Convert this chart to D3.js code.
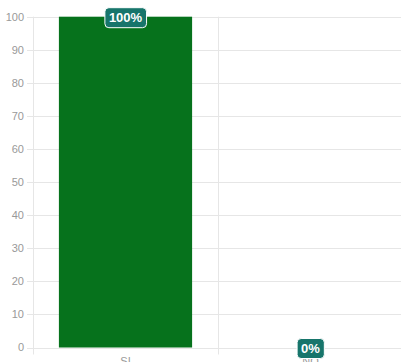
<!DOCTYPE html>
<html><head><meta charset="utf-8">
<script src="https://cdn.jsdelivr.net/npm/d3@7"></script>
<style>body{margin:0;background:#fff}svg{display:block}</style>
</head><body>
<svg id="c" width="401" height="362"></svg>
<script>
const categories = ["SI", "NO"];
const values = [100, 0];
const labels = ["100%", "0%"];
const yTicks = [0,10,20,30,40,50,60,70,80,90,100];

(function () {
const svg = d3.select("#c");
const pLeft = 33, pRight = 403, pTop = 16.7, pBottom = 347.5;
const x = d3.scaleBand().domain(categories).range([pLeft, pRight]).paddingInner(0).paddingOuter(0);
const y = d3.scaleLinear().domain([0, 100]).range([pBottom, pTop]);
const font = "Helvetica, Arial, 'Liberation Sans', sans-serif";
const gridColor = "#e6e6e6";

// horizontal grid
svg.append("g").selectAll("line").data(yTicks).join("line")
  .attr("x1", pLeft - 6).attr("x2", 401)
  .attr("y1", d => Math.round(y(d)) + 0.5).attr("y2", d => Math.round(y(d)) + 0.5)
  .attr("stroke", gridColor).attr("stroke-width", 1);

// vertical grid at category boundaries
const bounds = categories.map(c => x(c));
svg.append("g").selectAll("line").data(bounds).join("line")
  .attr("x1", d => Math.round(d) + 0.5).attr("x2", d => Math.round(d) + 0.5)
  .attr("y1", pTop).attr("y2", pBottom + 7)
  .attr("stroke", gridColor).attr("stroke-width", 1);

// y tick labels
svg.append("g").selectAll("text").data(yTicks).join("text")
  .attr("x", pLeft - 9).attr("y", d => y(d))
  .attr("dy", "0.35em").attr("text-anchor", "end")
  .attr("font-family", font).attr("font-size", 11).attr("fill", "#999")
  .text(d => d);

// bars
const bw = x.bandwidth() * 0.72;
svg.append("g").selectAll("rect").data(values).join("rect")
  .attr("x", (d, i) => x(categories[i]) + (x.bandwidth() - bw) / 2)
  .attr("width", bw)
  .attr("y", d => y(d)).attr("height", d => y(0) - y(d))
  .attr("fill", "#06721c");

// x labels
svg.append("g").selectAll("text").data(categories).join("text")
  .attr("x", d => x(d) + x.bandwidth() / 2).attr("y", 365)
  .attr("text-anchor", "middle")
  .attr("font-family", font).attr("font-size", 11).attr("fill", "#999")
  .text(d => d);

// value labels
const lg = svg.append("g");
values.forEach((v, i) => {
  const cx = x(categories[i]) + x.bandwidth() / 2;
  const cy = y(v) + 1;
  const g = lg.append("g");
  const t = g.append("text").attr("x", cx).attr("y", cy).attr("dy", "0.36em")
    .attr("text-anchor", "middle").attr("font-family", font).attr("font-weight", "bold")
    .attr("font-size", 13).attr("fill", "#fff").text(labels[i]);
  const bb = t.node().getBBox();
  g.insert("rect", "text")
    .attr("x", bb.x - 4).attr("y", cy - 10).attr("width", bb.width + 8).attr("height", 20)
    .attr("rx", 4).attr("fill", "#17756b").attr("stroke", "#fff").attr("stroke-width", 1);
});
})();
</script>
</body></html>
